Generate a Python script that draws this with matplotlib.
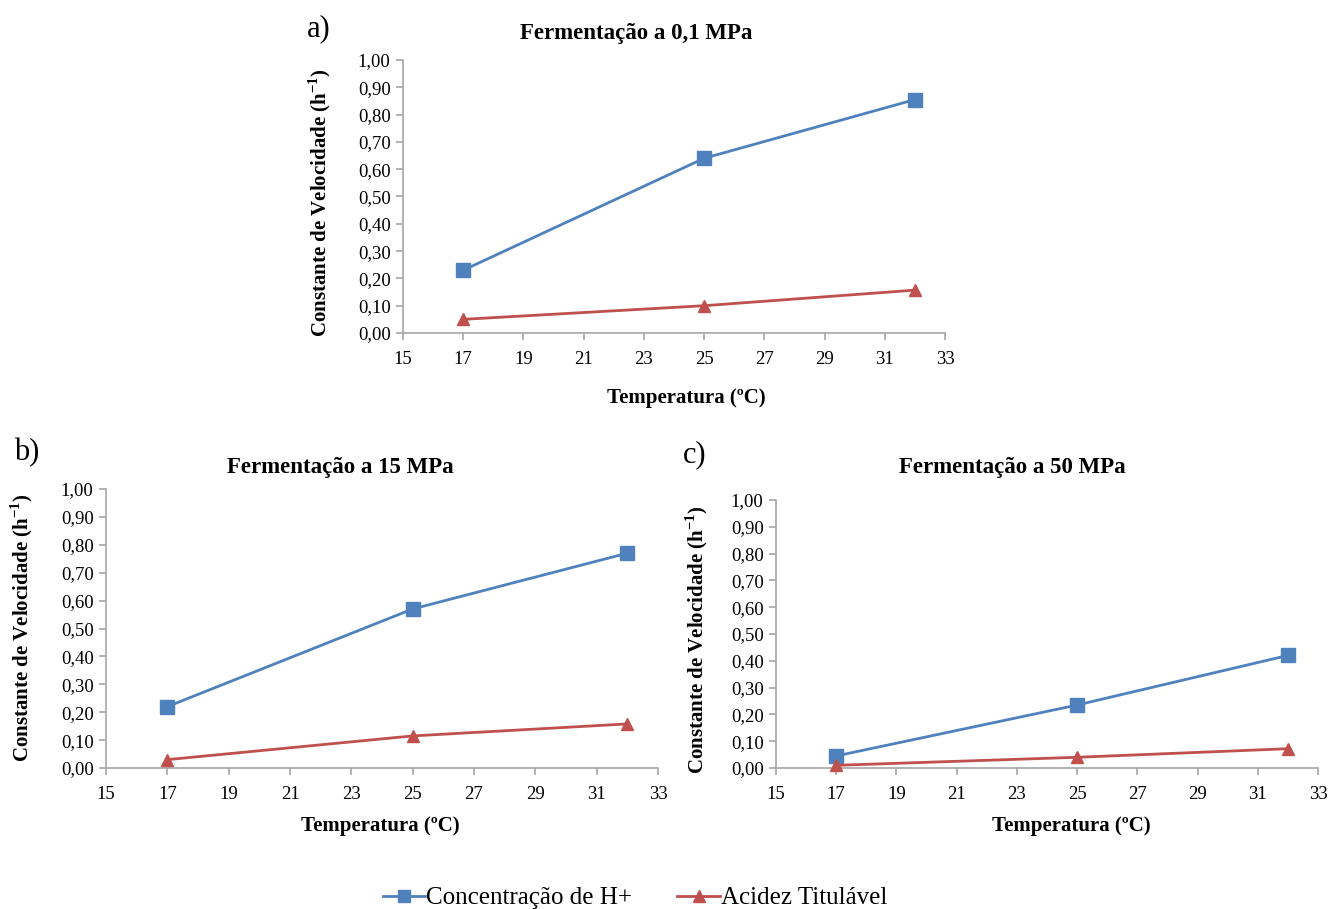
import matplotlib
matplotlib.use("Agg")
import matplotlib.pyplot as plt
from matplotlib.ticker import FuncFormatter, FixedLocator
from matplotlib.lines import Line2D

plt.rcParams['font.family'] = 'serif'
plt.rcParams['font.serif'] = ['Liberation Serif', 'DejaVu Serif']
plt.rcParams['mathtext.fontset'] = 'custom'
plt.rcParams['mathtext.rm'] = 'Liberation Serif'
plt.rcParams['mathtext.bf'] = 'Liberation Serif:bold'

temps = [17, 25, 32]
series_names = ["Concentração de H+", "Acidez Titulável"]
titles = ["Fermentação a 0,1 MPa", "Fermentação a 15 MPa", "Fermentação a 50 MPa"]
panel_labels = ["a)", "b)", "c)"]
h_plus = [[0.23, 0.64, 0.855], [0.22, 0.57, 0.77], [0.045, 0.235, 0.42]]
acidez = [[0.05, 0.10, 0.157], [0.03, 0.115, 0.158], [0.01, 0.04, 0.072]]
x_ticks = list(range(15, 34, 2))
y_ticks = [i / 10 for i in range(11)]

W, H = 1330, 909
fig = plt.figure(figsize=(W / 100, H / 100), dpi=100)

def fx(px):
    return px / W

def fy(py):
    return 1 - py / H

# axes boxes in pixel coords: left, top, right, bottom
boxes = [(403, 60, 945, 333), (106, 489, 658, 768), (776, 500, 1318, 768)]
title_pos = [(636, 33), (340, 467), (1012, 467)]
label_pos = [(307, 29), (14, 453), (683, 455)]
xlabel_pos = [(686, 398), (380, 826), (1071, 826)]
ylabel_pos = [(320, 203), (22, 628), (697, 640)]

blue = "#4F81BD"
red = "#C0504D"
spine_c = "#A6A6A6"

for i in range(3):
    l, t, r, b = boxes[i]
    ax = fig.add_axes([fx(l), fy(b), fx(r - l), (b - t) / H])
    ax.plot(temps, h_plus[i], color=blue, lw=2, marker="s", ms=10, label=series_names[0], clip_on=False, zorder=3)
    ax.plot(temps, acidez[i], color=red, lw=2, marker="^", ms=9, label=series_names[1], clip_on=False, zorder=3)
    ax.set_xlim(15, 33)
    ax.set_ylim(0, 1)
    ax.xaxis.set_major_locator(FixedLocator(x_ticks))
    ax.yaxis.set_major_locator(FixedLocator(y_ticks))
    ax.yaxis.set_major_formatter(FuncFormatter(lambda v, p: f"{v:.2f}".replace(".", ",")))
    for s in ["top", "right"]:
        ax.spines[s].set_visible(False)
    for s in ["left", "bottom"]:
        ax.spines[s].set_color(spine_c)
        ax.spines[s].set_linewidth(1.2)
    ax.tick_params(axis="both", direction="out", length=5, width=1.2, color=spine_c, labelsize=13.5, pad=4)
    ax.tick_params(axis="x", pad=8)
    fig.text(fx(title_pos[i][0]), fy(title_pos[i][1]), titles[i], ha="center", va="center",
             fontsize=16.5, fontweight="bold")
    fig.text(fx(label_pos[i][0]), fy(label_pos[i][1]), panel_labels[i], ha="left", va="center", fontsize=22)
    fig.text(fx(xlabel_pos[i][0]), fy(xlabel_pos[i][1]), "Temperatura (ºC)", ha="center", va="center",
             fontsize=15, fontweight="bold")
    fig.text(fx(ylabel_pos[i][0]), fy(ylabel_pos[i][1]), "Constante de Velocidade (h$^{\\mathbf{-1}}$)",
             ha="center", va="center", rotation=90, fontsize=15, fontweight="bold")

handles = [Line2D([], [], color=blue, lw=2, marker="s", ms=8),
           Line2D([], [], color=red, lw=2, marker="^", ms=8)]
fig.legend(handles, series_names, loc="center", bbox_to_anchor=(fx(635), fy(898)), ncol=2, frameon=False,
           fontsize=18, handlelength=1.7, handletextpad=0.05, columnspacing=1.8)

fig.savefig("out.png", dpi=100)
